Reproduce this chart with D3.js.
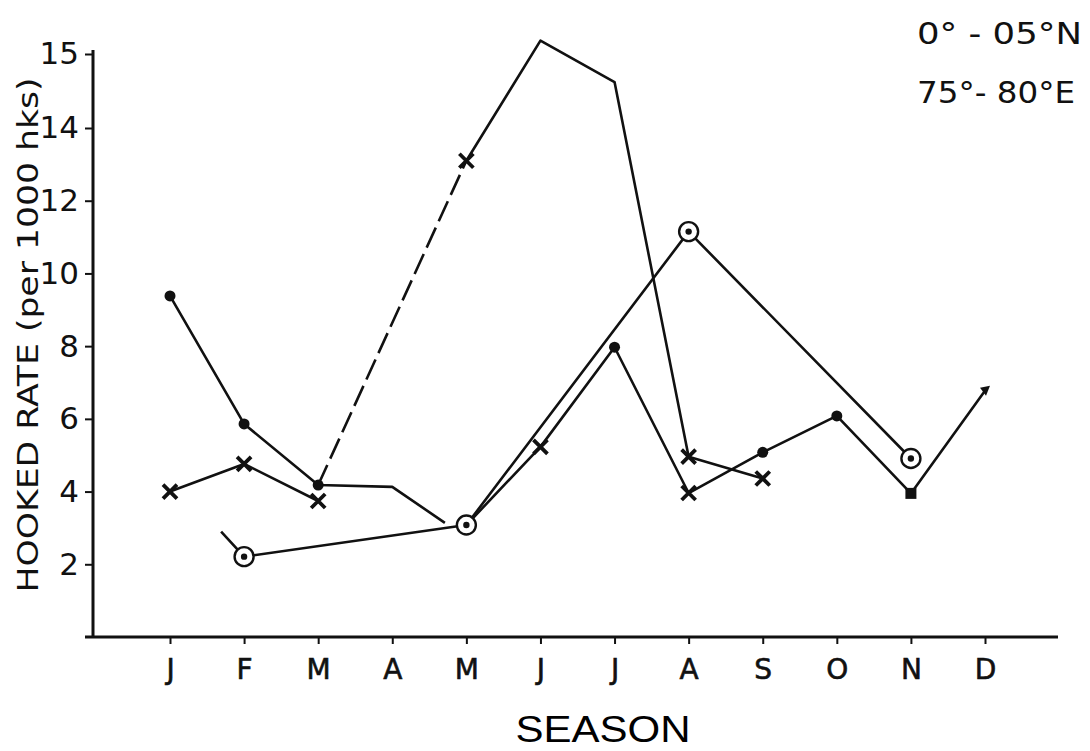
<!DOCTYPE html>
<html><head><meta charset="utf-8">
<script src="https://cdn.jsdelivr.net/npm/d3@7"></script>
<style>body{margin:0;background:#fff}</style>
</head><body>
<svg id="c" width="1090" height="751"></svg>
<script>
// ---- data ----
const months = ["J","F","M","A","M","J","J","A","S","O","N","D"];
const yTicks = [2,4,6,8,10,12,14,15];
const yLabel = "HOOKED RATE (per 1000 hks)";
const xLabel = "SEASON";
const areaLines = ["0° - 05°N", "75°- 80°E"];

// month index (0 = Jan) and hooked rate
const dotMonths   = [0, 1, 2, 3, 3.71];
const dotValues   = [9.38, 5.86, 4.18, 4.13, 3.14];
const dotShapes   = ["dot","dot","dot","none","none"];

const crossMonths = [0, 1, 2];
const crossValues = [4.0, 4.76, 3.74];
const crossShapes = ["x","x","x"];

const dashMonths  = [2, 4];
const dashValues  = [4.18, 13.1];
const dashShapes  = ["none","none"];

const peakMonths  = [4, 5, 6, 7, 8];
const peakValues  = [13.1, 15.18, 14.62, 4.96, 4.36];
const peakShapes  = ["x","none","none","x","x"];

const circleMonths = [0.69, 1, 4, 7, 10];
const circleValues = [2.9, 2.21, 3.08, 11.15, 4.91];
const circleShapes = ["none","circle","circle","circle","circle"];

const lateMonths  = [4, 5, 6, 7, 8, 9, 10, 11];
const lateValues  = [3.08, 5.23, 7.97, 3.96, 5.08, 6.08, 3.95, 6.77];
const lateShapes  = ["none","x","dot","x","dot","dot","square","tri"];

const series = [
  {m: dotMonths, v: dotValues, s: dotShapes, dash: null},
  {m: crossMonths, v: crossValues, s: crossShapes, dash: null},
  {m: dashMonths, v: dashValues, s: dashShapes, dash: "22,7"},
  {m: peakMonths, v: peakValues, s: peakShapes, dash: null},
  {m: circleMonths, v: circleValues, s: circleShapes, dash: null},
  {m: lateMonths, v: lateValues, s: lateShapes, dash: null}
];

// ---- drawing ----
const svg = d3.select("#c");
const ink = "#111";
const x = d3.scaleLinear().domain([0, 11]).range([170, 985]);
const y = d3.scaleLinear().domain([0, 14, 15]).range([637, 128, 54]);
const axisLeftX = 93, axisRightX = 1058, axisTopY = 50;

// axes
const gx = svg.append("g").attr("transform", `translate(0,${y(0)})`)
  .call(d3.axisBottom(x).tickValues(d3.range(12)).tickFormat(i => months[i]).tickSize(7).tickPadding(15));
gx.select(".domain").remove();
gx.selectAll(".tick line").attr("stroke", ink).attr("stroke-width", 2);
gx.selectAll(".tick text").attr("font-family", "DejaVu Sans, sans-serif").attr("font-size", 28)
  .attr("fill", ink).attr("stroke", ink).attr("stroke-width", 0.6);

const gy = svg.append("g").attr("transform", `translate(${axisLeftX},0)`)
  .call(d3.axisLeft(y).tickValues(yTicks).tickFormat(d => d).tickSize(8).tickPadding(6));
gy.select(".domain").remove();
gy.selectAll(".tick line").attr("stroke", ink).attr("stroke-width", 2);
gy.selectAll(".tick text").attr("font-family", "DejaVu Sans, sans-serif").attr("font-size", 31).attr("fill", ink);

svg.append("line").attr("x1", 85).attr("x2", axisRightX).attr("y1", y(0)).attr("y2", y(0))
  .attr("stroke", ink).attr("stroke-width", 3);
svg.append("line").attr("x1", axisLeftX).attr("x2", axisLeftX).attr("y1", axisTopY).attr("y2", y(0))
  .attr("stroke", ink).attr("stroke-width", 3);

// axis titles
svg.append("text").attr("transform", `translate(38,${335}) rotate(-90)`)
  .attr("text-anchor", "middle").attr("font-family", "DejaVu Sans, sans-serif").attr("font-size", 29)
  .attr("textLength", 515).attr("lengthAdjust", "spacingAndGlyphs").attr("fill", ink).text(yLabel);
svg.append("text").attr("x", 603).attr("y", 742).attr("text-anchor", "middle")
  .attr("font-family", "Liberation Sans, Arial, sans-serif").attr("font-size", 37)
  .attr("textLength", 175).attr("lengthAdjust", "spacingAndGlyphs").attr("fill", "#000").text(xLabel);

// area text
svg.selectAll("text.area").data(areaLines).join("text").attr("class", "area")
  .attr("x", 917).attr("y", (d, i) => 44 + i * 59)
  .attr("font-family", "DejaVu Sans, sans-serif").attr("font-size", 30).attr("fill", ink)
  .attr("textLength", (d, i) => i === 0 ? 165 : 158).attr("lengthAdjust", "spacingAndGlyphs")
  .text(d => d);

// lines
const line = d3.line().x(d => x(d[0])).y(d => y(d[1]));
series.forEach(sr => {
  const pts = sr.m.map((mm, i) => [mm, sr.v[i]]);
  svg.append("path").attr("d", line(pts)).attr("fill", "none").attr("stroke", ink)
    .attr("stroke-width", 2.6).attr("stroke-linejoin", "round")
    .attr("stroke-dasharray", sr.dash);
});

// markers
series.forEach(sr => {
  sr.m.forEach((mm, i) => {
    const cx = x(mm), cy = y(sr.v[i]), t = sr.s[i];
    const g = svg.append("g").attr("transform", `translate(${cx},${cy})`);
    if (t === "dot") {
      g.append("circle").attr("r", 5.5).attr("fill", ink);
    } else if (t === "x") {
      g.append("path").attr("d", "M-7,-7L7,7M-7,7L7,-7").attr("stroke", ink).attr("stroke-width", 3.8);
    } else if (t === "circle") {
      g.append("circle").attr("r", 9.5).attr("fill", "#fff").attr("stroke", ink).attr("stroke-width", 2.4);
      g.append("circle").attr("r", 3.2).attr("fill", ink);
    } else if (t === "square") {
      g.append("rect").attr("x", -5.5).attr("y", -5.5).attr("width", 11).attr("height", 11).attr("fill", ink);
    } else if (t === "tri") {
      g.append("path").attr("d", "M-5,-3L5,-5L1,5Z").attr("fill", ink);
    }
  });
});
</script>
</body></html>
